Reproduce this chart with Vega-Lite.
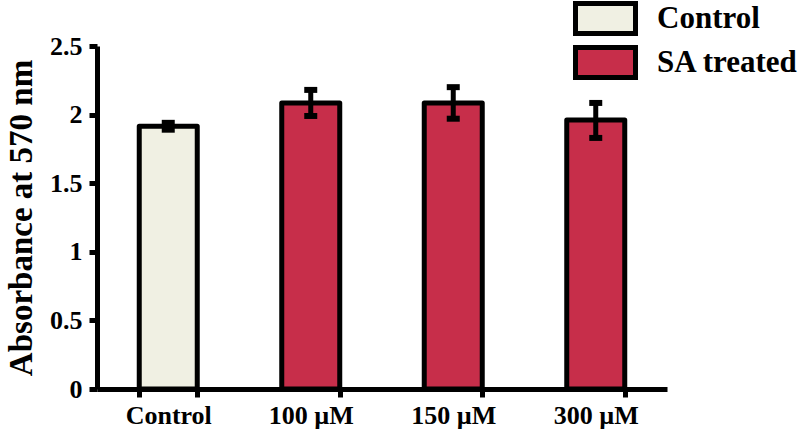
{
  "$schema": "https://vega.github.io/schema/vega-lite/v6.json",
  "autosize": {"type": "none"},
  "width": 570,
  "height": 343,
  "padding": {"left": 97, "top": 46, "right": 132, "bottom": 46},
  "background": "white",
  "config": {
    "font": "Liberation Serif",
    "view": {"stroke": null},
    "axis": {"grid": false, "domainColor": "black", "tickColor": "black", "labelColor": "black", "titleColor": "black", "labelFont": "Liberation Serif", "titleFont": "Liberation Serif", "labelFontWeight": "bold", "titleFontWeight": "bold"},
    "legend": {"labelFont": "Liberation Serif"}
  },
  "data": {"values": [
    {"cat": "Control", "group": "Control", "mean": 1.915, "lo": 1.89, "hi": 1.94},
    {"cat": "100 µM", "group": "SA treated", "mean": 2.085, "lo": 1.99, "hi": 2.18},
    {"cat": "150 µM", "group": "SA treated", "mean": 2.085, "lo": 1.97, "hi": 2.2},
    {"cat": "300 µM", "group": "SA treated", "mean": 1.96, "lo": 1.83, "hi": 2.085}
  ]},
  "encoding": {
    "x": {"field": "cat", "type": "nominal", "sort": null,
      "scale": {"paddingInner": 0.593, "paddingOuter": 0.2965},
      "axis": {"title": null, "labelAngle": 0, "labelFontSize": 26, "labelPadding": 5, "domainWidth": 5, "tickWidth": 5, "tickSize": 8, "tickBand": "extent"}}
  },
  "layer": [
    {
      "mark": {"type": "bar", "stroke": "black", "strokeWidth": 5, "strokeJoin": "round"},
      "encoding": {
        "y": {"field": "mean", "type": "quantitative",
          "scale": {"domain": [0, 2.5], "nice": false},
          "axis": {"title": "Absorbance at 570 nm", "titleFontSize": 33, "titlePadding": 11, "labelFontSize": 26, "labelPadding": 7, "values": [0, 0.5, 1, 1.5, 2, 2.5], "format": "~g", "domainWidth": 5, "tickWidth": 5, "tickSize": 8}},
        "fill": {"field": "group", "type": "nominal",
          "scale": {"domain": ["Control", "SA treated"], "range": ["#f0f0e3", "#c72e4a"]},
          "legend": {"title": null, "orient": "none", "legendX": 491, "legendY": -45,
            "symbolType": "M-2,-1H2V1H-2Z", "symbolSize": 900, "symbolStrokeWidth": 5, "symbolStrokeColor": "black",
            "labelFontWeight": "bold", "labelFontSize": 31, "labelColor": "black", "labelOffset": 34, "rowPadding": -7}}
      }
    },
    {
      "mark": {"type": "rule", "color": "black", "strokeWidth": 5},
      "encoding": {"y": {"field": "lo", "type": "quantitative"}, "y2": {"field": "hi"}}
    },
    {
      "mark": {"type": "tick", "color": "black", "orient": "horizontal", "size": 13, "thickness": 6, "opacity": 1},
      "encoding": {"y": {"field": "lo", "type": "quantitative"}}
    },
    {
      "mark": {"type": "tick", "color": "black", "orient": "horizontal", "size": 13, "thickness": 6, "opacity": 1},
      "encoding": {"y": {"field": "hi", "type": "quantitative"}}
    }
  ]
}
